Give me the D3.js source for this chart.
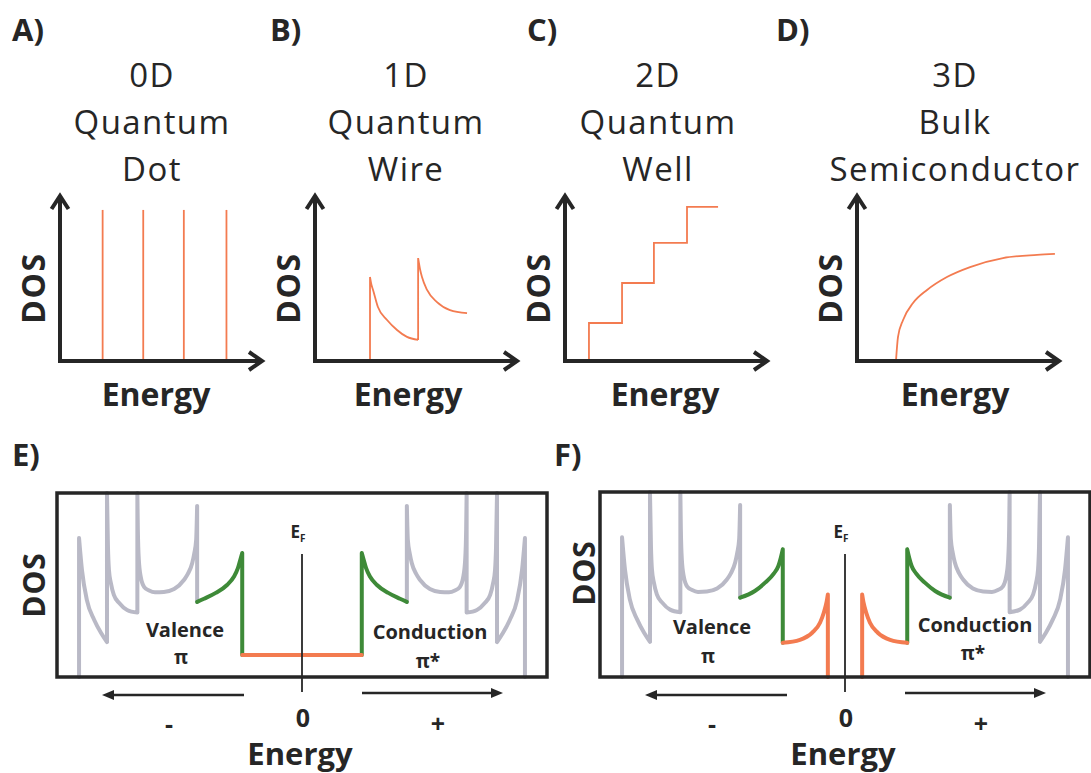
<!DOCTYPE html>
<html>
<head>
<meta charset="utf-8">
<script src="https://cdn.jsdelivr.net/npm/d3@7"></script>
<style>
  body { margin: 0; background: #fff; }
  text { font-family: 'Open Sans', sans-serif; fill: #262626; }
</style>
</head>
<body>
<script>
// ---- data (arbitrary units, 0..10 on every axis) ----
const panelLetters = ['A)', 'B)', 'C)', 'D)'];
const panelTitles = [['0D', 'Quantum', 'Dot'], ['1D', 'Quantum', 'Wire'], ['2D', 'Quantum', 'Well'], ['3D', 'Bulk', 'Semiconductor']];

// 0D: discrete levels
const dotLevels = [2.1, 4.1, 6.1, 8.2];
const dotHeight = 9.1;

// 1D: 1/sqrt subbands
const wireDos = [[2.71, 0], [2.71, 5.06], [2.78, 4.6], [2.86, 4.28], [3.1, 3.25], [3.55, 2.47], [4.04, 1.87], [4.53, 1.45], [5.08, 1.27],
                 [5.08, 6.2], [5.18, 5.5], [5.27, 5.06], [5.52, 4.28], [6.01, 3.55], [6.65, 3.07], [7.49, 2.89]];

// 2D: steps
const wellEdges = [1.18, 2.81, 4.38, 6.01];
const wellLevels = [2.29, 4.7, 7.11, 9.28];
const wellEnd = 7.54;

// 3D: sqrt
const bulkDos = [[1.92, 0], [2.02, 1.45], [2.27, 2.47], [2.76, 3.49], [3.45, 4.28], [4.43, 5.06], [5.57, 5.66], [7.19, 6.2], [8.87, 6.39], [9.75, 6.45]];

// E / F : conduction side (valence is the mirror image), energy -5..5, DOS 0..10
const grayBands = [[2.14, 9.3], [2.16, 7.45], [2.2, 6.7], [2.24, 6.2], [2.33, 5.6], [2.41, 5.27], [2.61, 4.78], [2.82, 4.62], [3.0, 4.6],
                   [3.12, 4.7], [3.22, 4.89], [3.29, 5.43], [3.33, 6.36], [3.35, 8.0], [3.36, 10],
                   [3.36, 3.5], [3.57, 3.64], [3.73, 4.02], [3.84, 4.46], [3.9, 5.1], [3.94, 5.82], [3.96, 7.07], [3.98, 10],
                   [3.98, 1.9], [4.1, 2.39], [4.24, 3.1], [4.39, 4.18], [4.49, 5.8], [4.55, 7.55], [4.55, 0]];

const eOrange = [[0, 1.2], [1.22, 1.2]];
const eGreen = [[1.22, 1.2], [1.22, 6.74], [1.26, 6.36], [1.31, 5.9], [1.39, 5.45], [1.53, 5.0], [1.76, 4.57], [2.0, 4.25], [2.14, 4.08]];

const fOrange = [[0.35, 0], [0.35, 4.46], [0.38, 4.0], [0.43, 3.5], [0.51, 2.93], [0.67, 2.39], [0.92, 2.01], [1.27, 1.85]];
const fGreen = [[1.27, 1.85], [1.27, 6.9], [1.31, 6.45], [1.36, 6.0], [1.45, 5.6], [1.63, 5.1], [1.84, 4.65], [2.14, 4.29]];

const bandLabels = ['Valence', 'Conduction'];
const orbitalLabels = ['π', 'π*'];
const signLabels = ['-', '0', '+'];

// ---- drawing ----
const ink = '#262626';
const orange = '#f37b50';
const green = '#3e8a38';
const gray = '#b9b9c6';

const svg = d3.select('body').append('svg').attr('width', 1091).attr('height', 773);

// smooth between vertical jumps, straight on the jumps
function curvePath(pts, x, y) {
  const smooth = d3.line().x(d => x(d[0])).y(d => y(d[1])).curve(d3.curveMonotoneX);
  const straight = d3.line().x(d => x(d[0])).y(d => y(d[1]));
  let out = '', cur = [pts[0]];
  for (let i = 1; i < pts.length; i++) {
    if (pts[i][0] === pts[i - 1][0]) {
      if (cur.length > 1) out += smooth(cur);
      out += straight([pts[i - 1], pts[i]]);
      cur = [pts[i]];
    } else {
      cur.push(pts[i]);
    }
  }
  if (cur.length > 1) out += smooth(cur);
  return out;
}

// top row
const topOrigins = [60, 315, 565, 857];
const titleCenters = [152, 406, 658, 955];
const energyCenters = [156, 408, 665, 955];
const letterX = [12, 270, 527, 776];
const axisLen = 203;

topOrigins.forEach((ox, i) => {
  const g = svg.append('g');
  const x = d3.scaleLinear().domain([0, 10]).range([ox, ox + axisLen]);
  const y = d3.scaleLinear().domain([0, 10]).range([361, 195]);

  g.append('text').text(panelLetters[i]).attr('x', letterX[i]).attr('y', 41)
    .style('font-size', '31px').style('font-weight', 700);

  panelTitles[i].forEach((t, j) => {
    g.append('text').text(t).attr('x', titleCenters[i]).attr('y', 87 + j * 47)
      .attr('text-anchor', 'middle').style('font-size', '33px').style('letter-spacing', '1.4px');
  });

  // curves
  if (i === 0) {
    g.selectAll('line.lvl').data(dotLevels).enter().append('line')
      .attr('x1', d => x(d)).attr('x2', d => x(d)).attr('y1', y(0)).attr('y2', y(dotHeight))
      .attr('stroke', orange).attr('stroke-width', 1.8);
  } else if (i === 1) {
    g.append('path').attr('d', curvePath(wireDos, x, y)).attr('fill', 'none').attr('stroke', orange).attr('stroke-width', 1.8);
  } else if (i === 2) {
    const pts = [[wellEdges[0], 0]];
    wellEdges.forEach((e, k) => pts.push([e, wellLevels[k]]));
    pts.push([wellEnd, wellLevels[wellLevels.length - 1]]);
    const step = d3.line().x(d => x(d[0])).y(d => y(d[1])).curve(d3.curveStepAfter);
    g.append('path').attr('d', step(pts)).attr('fill', 'none').attr('stroke', orange).attr('stroke-width', 1.8);
  } else {
    g.append('path').attr('d', curvePath(bulkDos, x, y)).attr('fill', 'none').attr('stroke', orange).attr('stroke-width', 1.8);
  }

  // axes with open arrowheads
  g.append('line').attr('x1', x(0)).attr('x2', x(0)).attr('y1', y(0) + 2).attr('y2', y(10) + 1)
    .attr('stroke', ink).attr('stroke-width', 4);
  g.append('line').attr('x1', x(0) - 2).attr('x2', x(10) - 1).attr('y1', y(0)).attr('y2', y(0))
    .attr('stroke', ink).attr('stroke-width', 4);
  g.append('path').attr('d', `M${x(0) - 8.5},${y(10) + 14} L${x(0)},${y(10) + 1} L${x(0) + 8.5},${y(10) + 14}`)
    .attr('fill', 'none').attr('stroke', ink).attr('stroke-width', 4);
  g.append('path').attr('d', `M${x(10) - 14},${y(0) - 9} L${x(10) - 1},${y(0)} L${x(10) - 14},${y(0) + 9}`)
    .attr('fill', 'none').attr('stroke', ink).attr('stroke-width', 4);

  g.append('text').text('DOS').attr('transform', `translate(${ox - 28},288) rotate(-90)`)
    .attr('text-anchor', 'middle').attr('dominant-baseline', 'central')
    .style('font-size', '32px').style('font-weight', 700).style('letter-spacing', '1.5px');
  g.append('text').text('Energy').attr('x', energyCenters[i]).attr('y', 406)
    .attr('text-anchor', 'middle').style('font-size', '32px').style('font-weight', 700);
});

// bottom row
const bottomPanels = [
  { letter: 'E)', letterX: 12, left: 57, right: 547, top: 493, cx: 302, dosX: 33, dosY: 585,
    orange: eOrange, green: eGreen, labelDx: [-117, 128], labelY: [637, 639], piY: [664, 668] },
  { letter: 'F)', letterX: 554, left: 599, right: 1089, top: 492, cx: 845, dosX: 583, dosY: 573,
    orange: fOrange, green: fGreen, labelDx: [-133, 130], labelY: [634, 632], piY: [663, 660] }
];
const boxBottom = 677;

bottomPanels.forEach(p => {
  const g = svg.append('g');
  const x = d3.scaleLinear().domain([-5, 5]).range([p.cx - 245, p.cx + 245]);
  const y = d3.scaleLinear().domain([0, 10]).range([boxBottom, p.top]);
  const mirror = pts => pts.map(d => [-d[0], d[1]]);

  g.append('text').text(p.letter).attr('x', p.letterX).attr('y', 466)
    .style('font-size', '31px').style('font-weight', 700);

  const lastGreen = p.green[p.green.length - 1];
  const grayPts = [lastGreen].concat(grayBands);
  [[grayPts, gray], [p.green, green], [p.orange, orange]].forEach(([pts, col]) => {
    [pts, mirror(pts)].forEach(s => {
      g.append('path').attr('d', curvePath(s, x, y)).attr('fill', 'none').attr('stroke', col)
        .attr('stroke-width', 4).attr('stroke-linejoin', 'round').attr('stroke-linecap', 'round');
    });
  });

  g.append('rect').attr('x', x(-5)).attr('y', y(10)).attr('width', x(5) - x(-5)).attr('height', y(0) - y(10))
    .attr('fill', 'none').attr('stroke', ink).attr('stroke-width', 3.5);

  // Fermi level
  g.append('line').attr('x1', x(0)).attr('x2', x(0)).attr('y1', 554).attr('y2', 692)
    .attr('stroke', ink).attr('stroke-width', 1.8);
  const ef = g.append('text').attr('x', x(0) - 4).attr('y', 538).attr('text-anchor', 'middle')
    .style('font-size', '17px').style('font-weight', 700);
  ef.append('tspan').text('E');
  ef.append('tspan').text('F').style('font-size', '10px').attr('dy', 4);

  g.append('text').text('DOS').attr('transform', `translate(${p.dosX},${p.dosY}) rotate(-90)`)
    .attr('text-anchor', 'middle').attr('dominant-baseline', 'central')
    .style('font-size', '30px').style('font-weight', 700).style('letter-spacing', '1px');

  bandLabels.forEach((t, k) => {
    g.append('text').text(t).attr('x', p.cx + p.labelDx[k]).attr('y', p.labelY[k])
      .attr('text-anchor', 'middle').style('font-size', '20px').style('font-weight', 700);
    g.append('text').text(orbitalLabels[k]).attr('x', p.cx + p.labelDx[k] - 4 + k * 2).attr('y', p.piY[k])
      .attr('text-anchor', 'middle').style('font-size', '19px').style('font-weight', 700);
  });

  // energy direction arrows
  const arrows = [[-58, -200, 695], [60, 201, 693]];
  arrows.forEach(([a, b, ay]) => {
    const x1 = p.cx + a, x2 = p.cx + b, dir = Math.sign(b - a);
    g.append('line').attr('x1', x1).attr('x2', x2 - dir * 8).attr('y1', ay).attr('y2', ay)
      .attr('stroke', ink).attr('stroke-width', 2.5);
    g.append('path').attr('d', `M${x2},${ay} L${x2 - dir * 12},${ay - 5} L${x2 - dir * 12},${ay + 5} Z`).attr('fill', ink);
  });

  const signX = [-133, 1, 136];
  signLabels.forEach((s, k) => {
    g.append('text').text(s).attr('x', p.cx + signX[k]).attr('y', k === 1 ? 727 : 733)
      .attr('text-anchor', 'middle').style('font-size', '25px').style('font-weight', 700);
  });
  g.append('text').text('Energy').attr('x', p.cx - 2).attr('y', 765)
    .attr('text-anchor', 'middle').style('font-size', '31px').style('font-weight', 700);
});
</script>
</body>
</html>
